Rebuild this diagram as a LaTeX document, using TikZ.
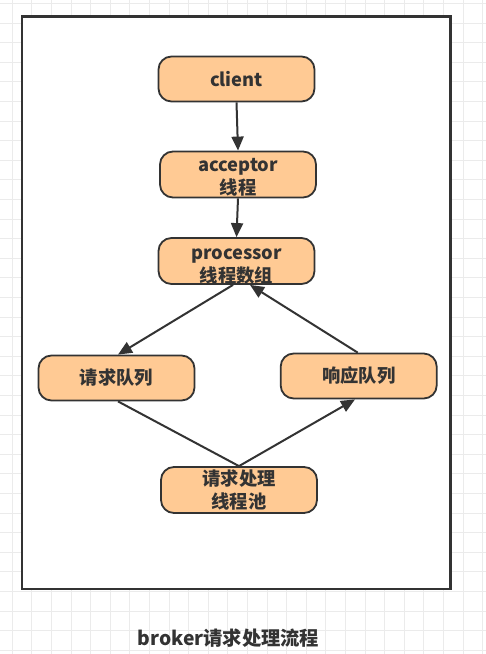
\documentclass[tikz,border=0pt]{standalone}
\usepackage{fontspec}
\newfontfamily\cjk{Noto Sans CJK SC}
\usetikzlibrary{arrows.meta}
\definecolor{ink}{HTML}{333333}
\definecolor{peach}{HTML}{FFCA94}
\definecolor{gridc}{HTML}{EBEBEB}
\newcommand{\twolines}[3]{\raisebox{-#3}[\height][\depth]{\begin{tabular}{@{}c@{}}#1\\#2\end{tabular}}}
\tikzset{
  box/.style={draw=ink, line width=1.8pt, fill=peach, rounded corners=13pt,
    minimum width=156pt, minimum height=45pt, inner sep=0pt,
    font=\cjk\bfseries\fontsize{18.3}{23}\selectfont, text=ink, align=center},
  link/.style={draw=ink, line width=2pt},
  arr/.style={link, -{Triangle[length=14pt,width=12pt]}},
}
\begin{document}
\begin{tikzpicture}[x=1pt,y=-1pt]
\useasboundingbox (0,0) rectangle (486,654);
\fill[white] (0,0) rectangle (486,654);
% background grid
\foreach \i in {0,...,24} {
  \draw[gridc, line width=1pt] ({12.3+19.6*\i},0) -- ({12.3+19.6*\i},654);
}
\foreach \j in {0,...,33} {
  \draw[gridc, line width=1pt] (0,{3.5+19.6*\j}) -- (486,{3.5+19.6*\j});
}
% frame
\draw[ink, line width=2.5pt, fill=white] (22,16.5) rectangle (450.5,589);
% nodes
\node[box] (client) at (236.5,79) {client};
\node[box] (acc) at (238,174.5) {\twolines{acceptor}{线程}{4pt}};
\node[box] (proc) at (236.5,261) {\twolines{processor}{线程数组}{5pt}};
\node[box] (rq) at (116.5,378) {请求队列};
\node[box] (rs) at (358.7,376) {响应队列};
\node[box] (pool) at (239,490) {\twolines{请求处理}{线程池}{2.5pt}};
% connectors
\draw[arr] (client.south) -- (acc.north);
\draw[arr] (acc.south) -- (proc.north);
\draw[arr] ([xshift=-3.5pt]proc.south) -- ([xshift=1.5pt]rq.north);
\draw[arr] ([xshift=-1pt]rs.north) -- ([xshift=13.5pt]proc.south);
\draw[link] ([xshift=1.5pt]rq.south) -- (pool.north);
\draw[arr] (pool.north) -- ([xshift=-3.7pt]rs.south);
% title
\node[font=\cjk\bfseries\fontsize{19.3}{22}\selectfont, text=ink, anchor=center] (title) at (228.5,638) {broker请求处理流程};
\end{tikzpicture}
\end{document}
